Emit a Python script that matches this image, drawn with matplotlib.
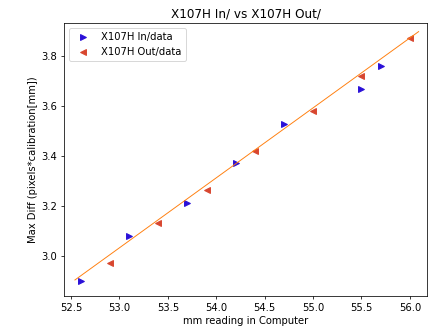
import matplotlib
matplotlib.use("Agg")
import matplotlib.pyplot as plt

in_x = [52.6, 53.1, 53.7, 54.2, 54.7, 55.5, 55.7]
in_y = [2.90, 3.08, 3.21, 3.37, 3.525, 3.665, 3.76]
out_x = [52.9, 53.4, 53.9, 54.4, 55.0, 55.5, 56.0]
out_y = [2.97, 3.13, 3.265, 3.42, 3.58, 3.72, 3.87]
fit_x = [52.54, 56.09]
fit_y = [2.904, 3.896]

plt.rcParams['font.size'] = 10.6

fig = plt.figure(figsize=(436/68, 328/68), dpi=68)
ax = fig.add_axes([0.147, 0.0976, 0.832, 0.832])

ax.plot(in_x, in_y, linestyle='none', marker='>', color='#2a10d8', markersize=6.3, label='X107H In/data')
ax.plot(out_x, out_y, linestyle='none', marker='<', color='#d8462f', markersize=6.3, label='X107H Out/data')
ax.plot(fit_x, fit_y, color='#ff7f0e', linewidth=1.0)

ax.set_xlim(52.428, 56.175)
ax.set_ylim(2.84, 3.93)
ax.set_xticks([52.5, 53.0, 53.5, 54.0, 54.5, 55.0, 55.5, 56.0])
ax.set_yticks([3.0, 3.2, 3.4, 3.6, 3.8])
ax.set_xlabel('mm reading in Computer')
ax.set_ylabel('Max Diff (pixels*calibration[mm])')
ax.set_title('X107H In/ vs X107H Out/')
ax.legend(loc='upper left')

fig.savefig('out.png', dpi=68)
